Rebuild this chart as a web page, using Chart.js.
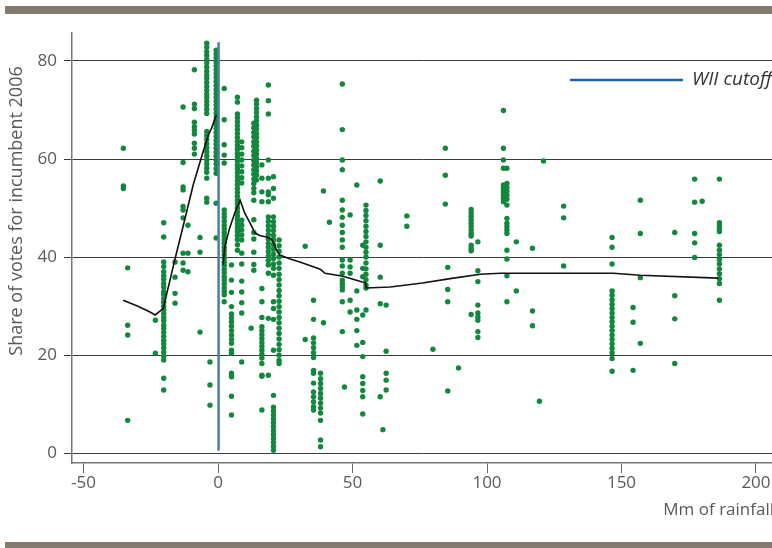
<!DOCTYPE html>
<html>
<head>
<meta charset="utf-8">
<script src="https://cdn.jsdelivr.net/npm/chart.js@4.4.1/dist/chart.umd.min.js"></script>
<style>
  html, body { margin: 0; padding: 0; background: #fff; overflow: hidden; }
  #wrap { position: relative; width: 772px; height: 548px; overflow: hidden; }
  #rainChart { position: absolute; left: 0; top: 0; }
  .band { position: absolute; left: 5px; right: 0; background: #857a6e; }
</style>
</head>
<body>
<div id="wrap">
  <div class="band" style="top:6px;height:8px"></div>
  <canvas id="rainChart" width="778" height="548"></canvas>
  <div class="band" style="top:542px;height:6px"></div>
</div>
<script>
// columns of districts: rainfall (mm) and the incumbent's vote share (%)
const rainfall = [-35.2, -33.6, -23.3, -20.2, -16.0, -13.0, -11.2, -8.8, -6.7, -4.2, -3.0, -0.7,
  2.3, 5.0, 7.2, 8.8, 12.3, 13.3, 14.3, 16.3, 18.7, 20.6, 22.7, 32.4, 35.5, 38.1, 39.2, 41.4,
  46.2, 47.0, 49.1, 51.6, 53.8, 55.0, 60.3, 61.3, 62.5, 70.2, 79.9, 84.5, 85.4, 89.4, 94.1,
  96.6, 106.1, 107.4, 110.9, 116.9, 119.5, 121.0, 128.5, 146.5, 154.3, 157.0, 169.8, 177.2,
  180.0, 186.4];

const voteShare = [
  [62.2, 54.5, 54.0],
  [37.8, 26.1, 24.1, 6.7],
  [27.1, 20.4],
  [47.0, 44.1, 39.0, 38.1, 37.0, 36.2, 35.5, 34.6, 33.9, 33.0, 32.4, 31.5, 30.8, 30.0, 29.3, 28.5,
   27.7, 27.0, 26.1, 25.4, 24.6, 23.8, 23.0, 22.3, 21.5, 20.6, 19.8, 19.0, 15.3, 12.9],
  [39.0, 35.9, 32.6, 30.6],
  [70.6, 59.3, 54.3, 53.7, 50.3, 49.6, 48.0, 40.8, 38.8, 37.3],
  [46.5, 40.8, 37.0],
  [78.2, 71.2, 70.3, 67.5, 66.6, 65.9, 65.1, 63.2, 62.2, 61.0],
  [44.0, 41.0, 24.7],
  [83.6, 82.8, 81.9, 81.1, 80.3, 79.6, 78.7, 77.9, 77.1, 76.4, 75.6, 74.8, 74.0, 73.2, 72.5, 71.7,
   70.9, 70.1, 69.3, 65.6, 64.8, 64.0, 63.1, 62.3, 61.5, 60.6, 59.8, 59.0, 58.1, 57.3, 56.1, 52.0, 51.2],
  [18.6, 13.9, 9.8],
  [82.2, 81.4, 80.6, 79.8, 79.0, 78.2, 77.4, 76.6, 75.8, 75.0, 74.2, 73.4, 72.6, 71.8, 71.0, 70.2,
   69.4, 68.6, 67.8, 67.0, 66.2, 65.4, 64.6, 63.8, 63.0, 62.2, 61.4, 60.6, 59.8, 59.0, 58.0, 57.1, 51.0, 43.9],
  [74.4, 68.0, 62.9, 60.8, 59.2, 49.6, 48.8, 48.1, 47.3, 46.5, 45.8, 45.0, 44.3, 43.5, 42.8, 42.0,
   41.3, 40.5, 39.8, 39.0, 38.3, 37.5, 36.8, 36.0, 35.3, 34.5, 33.7, 33.0, 32.3, 30.9],
  [38.4, 35.3, 32.8, 29.9, 28.4, 27.6, 26.8, 25.9, 25.0, 24.1, 23.2, 22.4, 21.0, 20.4, 16.3, 15.6, 11.6, 7.8],
  [72.6, 71.6, 69.2, 68.4, 67.6, 66.8, 66.0, 65.2, 64.4, 63.6, 62.8, 62.0, 61.2, 60.4, 59.6, 58.8,
   58.0, 57.2, 56.4, 55.6, 54.8, 54.0, 53.2, 52.4, 51.6, 50.8, 50.0, 49.2, 48.4, 47.6, 46.8, 46.0,
   45.2, 44.4, 43.6, 42.5, 41.4],
  [63.5, 62.3, 61.0, 59.8, 58.6, 57.4, 56.2, 55.1, 47.5, 46.5, 45.5, 44.5, 43.5, 40.8, 38.6, 35.1,
   32.9, 30.7, 28.6, 18.6],
  [25.5],
  [67.3, 66.4, 65.4, 64.5, 63.5, 62.6, 61.6, 60.7, 59.7, 58.8, 57.8, 56.9, 55.9, 55.0, 54.0, 53.1,
   51.6, 47.6, 45.0, 43.7, 41.0, 38.5, 37.3],
  [72.0, 71.2, 70.3, 69.5, 68.6, 67.8, 66.9, 66.1, 65.2, 64.4, 63.5, 62.7, 61.8, 61.0, 60.1, 59.3,
   58.4, 57.6, 56.7, 55.7],
  [58.8, 56.1, 53.3, 51.3, 33.6, 30.9, 27.7, 25.8, 25.0, 24.2, 23.4, 22.6, 21.8, 21.0, 20.2, 19.4,
   18.3, 15.9, 15.7, 8.8],
  [75.1, 71.9, 69.2, 59.8, 56.1, 53.3, 52.7, 51.3, 48.2, 47.3, 46.4, 45.5, 44.6, 43.7, 42.8, 42.0,
   41.1, 40.2, 39.3, 38.4, 36.7, 27.5, 15.9],
  [56.4, 54.0, 52.0, 48.2, 47.2, 46.3, 45.4, 44.4, 43.5, 42.5, 41.6, 40.6, 39.7, 38.6, 37.7, 36.3,
   30.9, 29.5, 27.3, 21.0, 11.8, 9.4, 8.6, 7.8, 7.0, 6.2, 5.4, 4.6, 3.8, 3.0, 2.2, 1.4, 0.6],
  [43.5, 42.3, 41.2, 40.0, 38.8, 37.7, 36.5, 35.4, 34.3, 33.2, 32.1, 31.0, 29.9, 28.8, 27.7, 26.6,
   25.5, 24.4, 23.3, 22.2, 21.1, 20.0, 18.9, 18.3],
  [42.2, 23.2],
  [31.2, 27.3, 23.5, 22.5, 21.5, 20.5, 19.5, 16.9, 16.3, 14.3, 12.5, 11.5, 10.5, 9.5, 8.8],
  [16.3, 15.2, 14.2, 13.2, 12.2, 11.2, 10.2, 9.2, 8.2, 6.7, 2.7, 1.3],
  [53.5, 26.6],
  [47.1],
  [75.3, 66.0, 59.8, 57.8, 51.6, 49.6, 48.1, 46.5, 45.0, 43.5, 42.0, 39.4, 38.2, 36.7, 35.3, 34.6,
   33.9, 33.3, 30.9, 24.8],
  [13.5],
  [48.6, 39.4, 38.0, 36.7, 31.2, 28.8],
  [54.7, 33.1, 29.2, 27.3, 25.0, 22.0],
  [42.4, 37.7, 36.0, 28.2, 22.6, 19.7, 15.6, 14.2, 12.8, 11.5, 8.0],
  [50.6, 49.5, 48.5, 47.4, 46.3, 45.2, 44.2, 43.1, 42.0, 41.0, 40.0, 38.8, 37.6, 36.5, 35.4, 34.3, 33.7, 29.2],
  [55.5, 42.4, 35.9, 30.5, 11.5],
  [4.8],
  [30.2, 20.8, 16.3, 14.9, 12.9],
  [48.4, 46.3],
  [21.2],
  [62.2, 56.7, 50.8],
  [37.9, 33.4, 30.9, 12.7],
  [17.4],
  [49.7, 49.0, 48.3, 47.6, 46.9, 46.2, 45.5, 44.8, 44.3, 42.4, 41.8, 41.3, 28.3],
  [43.1, 37.2, 35.0, 30.2, 28.6, 27.8, 27.1, 24.8, 23.6],
  [69.9, 62.2, 59.8, 58.1, 54.7, 54.0, 53.3, 52.7, 52.0, 51.3],
  [58.1, 55.0, 54.2, 53.4, 52.6, 51.8, 50.6, 47.9, 46.9, 46.2, 45.5, 44.8, 41.4, 39.6, 36.2, 30.9],
  [43.1, 33.1],
  [41.8, 29.0, 26.0],
  [10.6],
  [59.6],
  [50.4, 48.0, 38.2],
  [44.0, 42.0, 38.6, 33.1, 32.2, 31.3, 30.4, 29.5, 28.6, 27.7, 26.8, 25.9, 25.0, 24.1, 23.2, 22.3,
   21.4, 20.5, 19.3, 16.7],
  [29.7, 26.7, 16.9],
  [51.6, 44.8, 35.8, 22.4],
  [45.0, 32.1, 27.4, 18.3],
  [55.9, 51.2, 44.8, 42.9, 39.9],
  [51.4],
  [55.9, 47.0, 46.4, 45.8, 45.2, 42.4, 41.4, 40.5, 39.5, 38.6, 37.6, 36.6, 35.6, 34.6, 31.2]
];

// local fit, left and right of the cutoff
const fitLeftX = [-35.3, -30.0, -25.3, -23.4, -20.4, -18.0, -16.0, -12.9, -9.2, -5.5, -3.6, -2.4, -0.6];
const fitLeftY = [31.2, 30.0, 28.8, 28.2, 29.5, 35.0, 39.6, 46.5, 54.8, 61.6, 64.9, 66.3, 69.0];
const fitRightX = [1.9, 2.5, 4.3, 6.2, 8.2, 9.9, 11.9, 13.8, 15.5, 18.0, 20.0, 21.8, 23.0, 26.8, 30.4,
  38.0, 39.8, 46.5, 53.6, 54.8, 55.1, 64.0, 76.0, 86.3, 97.5, 105.0, 127.0, 147.0, 157.0, 186.0];
const fitRightY = [38.4, 42.1, 45.9, 49.0, 51.6, 49.0, 46.9, 44.9, 44.4, 44.1, 43.6, 41.4, 40.4, 39.6, 39.0,
  37.5, 36.7, 36.1, 34.9, 34.8, 33.7, 33.9, 34.7, 35.6, 36.5, 36.7, 36.7, 36.7, 36.3, 35.7];

const cutoffX = 0.2;
const cutoffY = [0.5, 83.8];

const xTicks = [-50, 0, 50, 100, 150, 200];
const yTicks = [0, 20, 40, 60, 80];
const yTitle = 'Share of votes for incumbent 2006';
const xTitle = 'Mm of rainfall';
const legendText = 'WII cutoff';

const points = [];
rainfall.forEach((x, i) => voteShare[i].forEach(y => points.push({ x: x, y: y })));

const labelFont = { family: '"Open Sans", sans-serif', size: 17 };
const textGrey = '#595959';

// y title sits above centre, legend sits inside the plot
const extraText = {
  id: 'extraText',
  afterDraw(chart) {
    const { ctx, chartArea } = chart;
    ctx.save();
    const ly = chartArea.top + 47;
    ctx.strokeStyle = '#1e63a6';
    ctx.lineWidth = 2.5;
    ctx.beginPath();
    ctx.moveTo(chartArea.right - 204, ly);
    ctx.lineTo(chartArea.right - 91, ly);
    ctx.stroke();
    ctx.fillStyle = '#333';
    ctx.font = 'italic 19px "Open Sans"';
    ctx.textBaseline = 'middle';
    ctx.fillText(legendText, chartArea.right - 82, ly);

    ctx.translate(17, chartArea.top + 178);
    ctx.rotate(-Math.PI / 2);
    ctx.textAlign = 'center';
    ctx.fillStyle = textGrey;
    ctx.font = '18px "Open Sans"';
    ctx.fillText(yTitle, 0, 0);
    ctx.restore();
  }
};

new Chart(document.getElementById('rainChart'), {
  type: 'scatter',
  data: {
    datasets: [
      {
        label: 'fit left',
        data: fitLeftX.map((x, i) => ({ x: x, y: fitLeftY[i] })),
        showLine: true,
        borderColor: '#111',
        borderWidth: 1.6,
        pointRadius: 0,
        order: 0
      },
      {
        label: 'fit right',
        data: fitRightX.map((x, i) => ({ x: x, y: fitRightY[i] })),
        showLine: true,
        borderColor: '#111',
        borderWidth: 1.6,
        pointRadius: 0,
        order: 0
      },
      {
        label: legendText,
        data: cutoffY.map(y => ({ x: cutoffX, y: y })),
        showLine: true,
        borderColor: '#4a7dab',
        borderWidth: 2.5,
        pointRadius: 0,
        order: 1
      },
      {
        label: 'districts',
        data: points,
        backgroundColor: '#13873d',
        borderWidth: 0,
        pointRadius: 2.7,
        order: 2
      }
    ]
  },
  options: {
    responsive: false,
    animation: false,
    layout: { padding: { top: 33, left: 0, right: 0, bottom: 0 } },
    plugins: {
      legend: { display: false },
      tooltip: { enabled: false }
    },
    scales: {
      x: {
        type: 'linear',
        min: -54.3,
        max: 206.7,
        afterBuildTicks: s => { s.ticks = xTicks.map(v => ({ value: v })); },
        afterFit: s => { s.height = 85; s.paddingLeft = 0; s.paddingRight = 0; },
        grid: { drawOnChartArea: false, drawTicks: true, tickLength: 10, tickColor: '#666' },
        border: { display: true, color: '#777', width: 1.5 },
        ticks: { color: textGrey, font: labelFont, padding: 0, maxRotation: 0, autoSkip: false },
        title: { display: true, text: xTitle, align: 'end', color: textGrey, font: labelFont,
                 padding: { top: 0, bottom: 28 } }
      },
      y: {
        type: 'linear',
        min: -2,
        max: 85.7,
        afterBuildTicks: s => { s.ticks = yTicks.map(v => ({ value: v })); },
        afterFit: s => { s.width = 72; },
        grid: { color: '#3a3a3a', lineWidth: 1, tickLength: 8, tickColor: '#3a3a3a' },
        border: { display: true, color: '#777', width: 1.5 },
        ticks: { color: textGrey, font: labelFont, padding: 7 }
      }
    }
  },
  plugins: [extraText]
});
</script>
</body>
</html>
